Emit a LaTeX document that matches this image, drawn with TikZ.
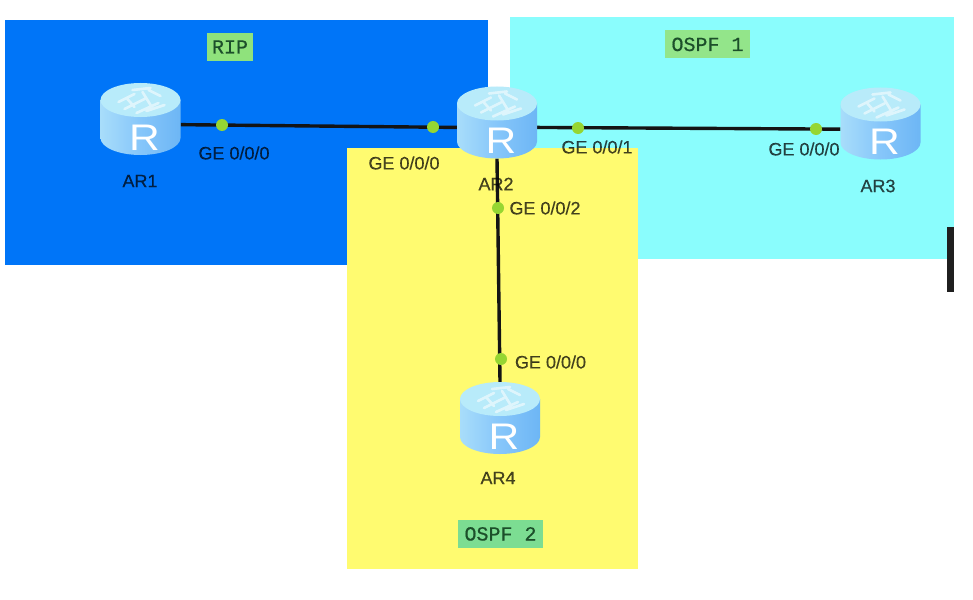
\documentclass[tikz,border=0pt]{standalone}
\usepackage{fontspec}
\setmainfont{Liberation Sans}
\newfontfamily\labelmono[FakeBold=0.6]{Liberation Mono}
\newfontfamily\labelsans[FakeBold=0.25]{Liberation Sans}
\definecolor{ripblue}{HTML}{0075F8}
\definecolor{ospfcyan}{HTML}{8AFDFD}
\definecolor{ospfyellow}{HTML}{FFFB70}
\definecolor{tagtext}{HTML}{1C4F2A}
\definecolor{tagrip}{HTML}{8FE27C}
\definecolor{tagone}{HTML}{93E58A}
\definecolor{tagtwo}{HTML}{7CDD92}
\definecolor{routerleft}{HTML}{A8DDFA}
\definecolor{routermid}{HTML}{86C6FA}
\definecolor{routerright}{HTML}{6DB6F5}
\definecolor{routertop}{HTML}{B8EBFA}
\definecolor{portgreen}{HTML}{96D632}
\tikzset{
  tag/.style={fill=#1,font=\labelmono\fontsize{20}{20}\selectfont,text=tagtext,inner sep=0pt,
    minimum height=28pt,text height=13pt,text depth=0pt},
  link/.style={line width=3.4pt,draw=black!92},
  port/.style={circle,fill=portgreen,draw=none,minimum size=12pt,inner sep=0pt},
  portlabel/.style={font=\labelsans\fontsize{18}{18}\selectfont,text=black,text opacity=.72,inner sep=0pt},
  routername/.style={font=\labelsans\fontsize{18}{18}\selectfont,text=black,text opacity=.72,inner sep=0pt},
  anchorbox/.style={minimum width=80pt,minimum height=72pt,inner sep=0pt},
  router/.pic={
    % cylinder body, lighter towards the left
    \shade[left color=routerleft,right color=routerright,middle color=routermid]
      (-40,-19) -- (-40,19) .. controls (-40,28.4) and (-22,36) .. (0,36)
      .. controls (22,36) and (40,28.4) .. (40,19) -- (40,-19) -- cycle;
    % top face
    \fill[routertop] (0,-19) ellipse[x radius=40,y radius=17];
    % network glyph on the top face
    \draw[white,opacity=.55,line width=2.6pt,line cap=round]
      (-22,-17) -- (-6,-25) (-16,-10) -- (4,-20) (-4,-6) -- (18,-16)
      (6,-8) -- (24,-14) (-8,-29) -- (10,-31) (8,-29) -- (20,-23)
      (-14,-21) -- (-6,-12) (2,-27) -- (10,-14);
    \node[text=white,font=\fontsize{37}{37}\selectfont,inner sep=0pt] at (4,18.5) {\scalebox{1.15}[1]{R}};
  }
}
\begin{document}
\begin{tikzpicture}[x=1pt,y=-1pt]
\useasboundingbox (0,0) rectangle (973,599);
\fill[white] (0,0) rectangle (973,599);

% routing domains
\fill[ripblue] (5,20) rectangle (488,265);
\fill[ospfcyan] (510,17) rectangle (954,259);
\fill[ospfyellow] (347,148) rectangle (638,569);
\fill[black!88] (947,227) rectangle (954,292);

% domain tags
\node[tag=tagrip,minimum width=46pt] (rip) at (230,47) {RIP};
\node[tag=tagone,minimum width=85pt] (ospfa) at (707.5,44.5) {OSPF 1};
\node[tag=tagtwo,minimum width=85pt] (ospfb) at (500.5,534) {OSPF 2};

% router anchors
\node[anchorbox] (ar1) at (140.5,119) {};
\node[anchorbox] (ar2) at (497,122.5) {};
\node[anchorbox] (ar3) at (880.5,123.5) {};
\node[anchorbox] (ar4) at (500,418) {};

% links
\draw[link] (ar1.-8) -- (ar2.187);
\draw[link] (ar2.-7) -- (ar3.188);
\draw[link] (ar2.south) -- (ar4.north);

% routers
\path (ar1.center) pic {router};
\path (ar2.center) pic {router};
\path (ar3.center) pic {router};
\path (ar4.center) pic {router};

% port markers
\node[port] (p1) at (222,125) {};
\node[port] (p2) at (433,127) {};
\node[port] (p3) at (578,128) {};
\node[port] (p4) at (816,129) {};
\node[port] (p5) at (498,208) {};
\node[port] (p6) at (501,359) {};

% port labels
\node[portlabel] (l1) at (234,153) {GE 0/0/0};
\node[portlabel] (l2) at (404,163) {GE 0/0/0};
\node[portlabel] (l3) at (597,147) {GE 0/0/1};
\node[portlabel] (l4) at (804,149) {GE 0/0/0};
\node[portlabel] (l5) at (545,208) {GE 0/0/2};
\node[portlabel] (l6) at (550.5,362) {GE 0/0/0};

% router names
\node[routername] (n1) at (140,181) {AR1};
\node[routername] (n2) at (496,184) {AR2};
\node[routername] (n3) at (878,186) {AR3};
\node[routername] (n4) at (498,478) {AR4};
\end{tikzpicture}
\end{document}
